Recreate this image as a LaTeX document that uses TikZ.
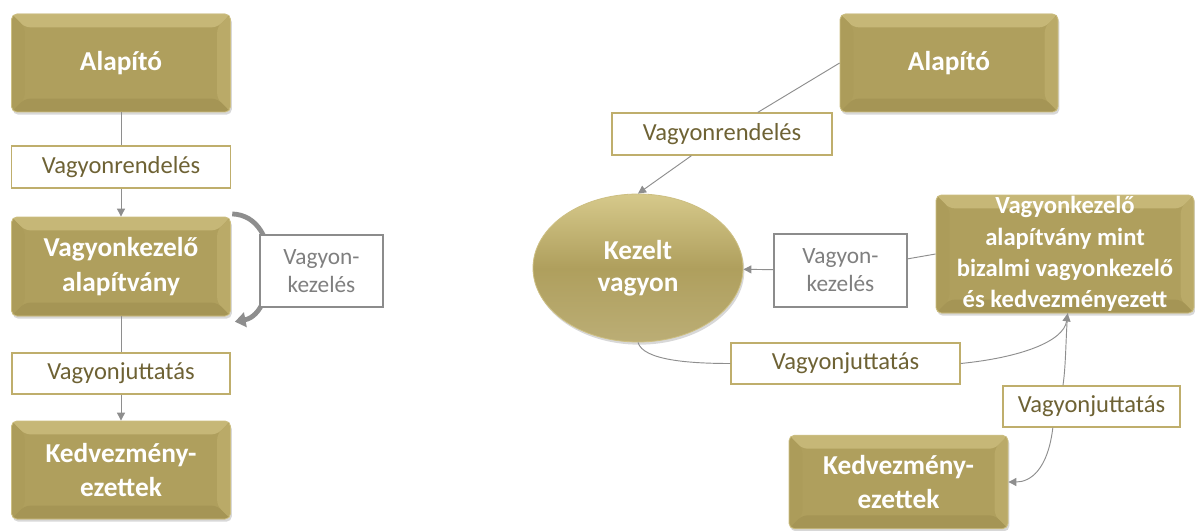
\documentclass[tikz,border=0pt]{standalone}
\usepackage{fontspec}
\setmainfont{Carlito}
\usetikzlibrary{arrows.meta,shapes.geometric,shadows}
\definecolor{gold}{HTML}{AF9F5D}
\definecolor{goldtop}{HTML}{C6B777}
\definecolor{goldleft}{HTML}{AC9C5A}
\definecolor{goldright}{HTML}{BAAA68}
\definecolor{goldbottom}{HTML}{A59555}
\definecolor{goldedge}{HTML}{CDBF82}
\definecolor{goldlite}{HTML}{D6C98B}
\definecolor{lblborder}{HTML}{BFAE6C}
\definecolor{lbltext}{HTML}{6E6234}
\definecolor{grayborder}{HTML}{8C8C8C}
\definecolor{graytext}{HTML}{7F7F7F}
\definecolor{linegray}{HTML}{8E8E8E}
\def\bv{10pt}
\tikzset{
  bevel/.style={path picture={
    \coordinate (bvnw) at (path picture bounding box.north west);
    \coordinate (bvse) at (path picture bounding box.south east);
    \coordinate (bvne) at (bvnw -| bvse);
    \coordinate (bvsw) at (bvnw |- bvse);
    \fill[goldtop] (bvnw) -- (bvne) -- ([shift={(-\bv,-\bv)}]bvne) -- ([shift={(\bv,-\bv)}]bvnw) -- cycle;
    \fill[goldleft] (bvnw) -- (bvsw) -- ([shift={(\bv,\bv)}]bvsw) -- ([shift={(\bv,-\bv)}]bvnw) -- cycle;
    \fill[goldright] (bvne) -- (bvse) -- ([shift={(-\bv,\bv)}]bvse) -- ([shift={(-\bv,-\bv)}]bvne) -- cycle;
    \fill[goldbottom] (bvsw) -- (bvse) -- ([shift={(-\bv,\bv)}]bvse) -- ([shift={(\bv,\bv)}]bvsw) -- cycle;
  }},
  box/.style={rectangle, rounded corners=4pt, fill=gold, draw=goldedge, line width=0.6pt,
    text=white, align=center, inner sep=0pt, bevel,
    drop shadow={opacity=0.3, shadow xshift=1pt, shadow yshift=-2pt},
    font=\bfseries\fontsize{20.5}{26}\selectfont},
  lbl/.style={rectangle, draw=lblborder, fill=white, line width=1pt, text=lbltext,
    inner sep=0pt, align=center, font=\fontsize{18.4}{22}\selectfont},
  glbl/.style={lbl, draw=grayborder, text=graytext, font=\fontsize{17.5}{21}\selectfont},
  conn/.style={draw=linegray, line width=0.7pt},
  arr/.style={conn, -{Triangle[length=6pt,width=6pt]}},
  bigloop/.style={draw=linegray, line width=3.6pt, -{Triangle[length=8pt,width=11pt]}},
}
\begin{document}
\begin{tikzpicture}[x=0.75pt,y=-0.75pt]
\useasboundingbox[fill=white] (0,0) rectangle (1195,531);

% ---------- left diagram ----------
\node[box, minimum width=164.25pt, minimum height=73.5pt] (lA) at (121,63) {Alapító};
\node[lbl, minimum width=164.25pt, minimum height=31.5pt] (lR) at (121,167) {Vagyonrendelés};
\node[box, minimum width=164.25pt, minimum height=74.25pt] (lV) at (121,266.5) {Vagyonkezelő\\alapítvány};
\node[lbl, minimum width=163.5pt, minimum height=30.75pt] (lJ) at (121,373.5) {Vagyonjuttatás};
\node[box, minimum width=164.25pt, minimum height=73.5pt] (lKe) at (121,470) {Kedvezmény-\\ezettek};

\draw[conn] (lA) -- (lR);
\draw[arr] (lR) -- (lV);
\draw[conn] (lV) -- (lJ);
\draw[arr] (lJ) -- (lKe);
\draw[bigloop] ([shift={(1pt,2pt)}]lV.north east) .. controls +(52,2) and +(42,-8) .. ([shift={(3pt,-4pt)}]lV.south east);
\node[glbl, minimum width=92.25pt, minimum height=54pt] (lK) at (321.5,271) {Vagyon-\\kezelés};

% ---------- right diagram ----------
\node[box, minimum width=163.5pt, minimum height=73.5pt] (rA) at (949,63) {Alapító};
\node[ellipse, minimum width=157.5pt, minimum height=111pt, inner sep=0pt, draw=goldedge, line width=0.6pt,
  top color=goldlite, bottom color=gold!85!white, middle color=gold,
  drop shadow={opacity=0.3, shadow xshift=1pt, shadow yshift=-2pt},
  text=white, align=center, font=\bfseries\fontsize{20.5}{24}\selectfont] (rKV) at (638,268) {Kezelt\\vagyon};
\node[box, minimum width=193.5pt, minimum height=88.5pt, font=\bfseries\fontsize{18.5}{23.5}\selectfont] (rVA) at (1065,254)
  {Vagyonkezelő\\alapítvány mint\\bizalmi vagyonkezelő\\és kedvezményezett};
\node[box, minimum width=164.25pt, minimum height=70pt] (rKe) at (898.5,482) {Kedvezmény-\\ezettek};

\node[lbl, minimum width=165pt, minimum height=31.5pt] (rR) at (722,134) {Vagyonrendelés};
\node[glbl, minimum width=99.75pt, minimum height=54.75pt] (rK) at (840.5,270.5) {Vagyon-\\kezelés};
\node[lbl, minimum width=171.75pt, minimum height=30.75pt] (rJ1) at (845.5,363.5) {Vagyonjuttatás};
\node[lbl, minimum width=132.75pt, minimum height=30.75pt] (rJ2) at (1091.5,406.5) {Vagyonjuttatás};

\draw[conn] (rA.west) -- (rR);
\draw[arr] (rR) -- (rKV.north);
\draw[conn] (rVA.west) -- (rK);
\draw[arr] (rK) -- (rKV);
\draw[conn] (rKV.south) .. controls +(5,18) and +(-40,0) .. (rJ1.west);
\draw[arr] (rJ1.east) .. controls +(60,-6) and +(-4,28) .. ([xshift=2pt]rVA.south);
\draw[conn] ([xshift=2pt]rVA.south) .. controls +(-2,25) and +(3,-20) .. ([xshift=-21.4pt]rJ2.north);
\draw[arr] ([xshift=-29pt]rJ2.south) .. controls +(-5,42) and +(22,0) .. (rKe.east);
\end{tikzpicture}
\end{document}
